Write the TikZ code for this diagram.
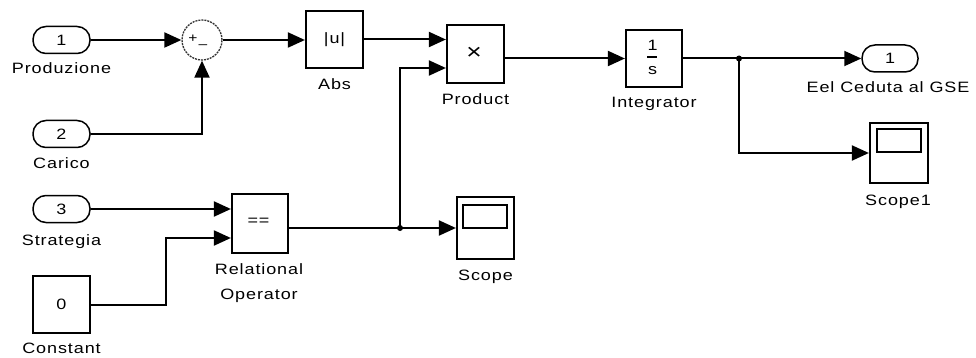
\documentclass[tikz,border=0pt]{standalone}
\usepackage{fontspec}
\setmainfont{Liberation Sans}
\newfontfamily\lab[FakeStretch=1.2,LetterSpace=6]{Liberation Sans}
\usetikzlibrary{arrows.meta,calc}
\begin{document}
\begin{tikzpicture}[x=1pt,y=-1pt,
  sig/.style={line width=2pt,-{Triangle[length=17pt,width=15pt]}},
  wire/.style={line width=2pt},
  blk/.style={draw,line width=2.2pt,minimum width=57pt,minimum height=57pt,inner sep=0pt,font=\lab\fontsize{15}{17}\selectfont},
  port/.style={draw,line width=1.5pt,rounded corners=13pt,minimum width=57pt,minimum height=27pt,inner sep=0pt,font=\lab\fontsize{15}{17}\selectfont},
  lbl/.style={anchor=base,inner sep=0pt,font=\lab\fontsize{15}{17}\selectfont},
  txt/.style={inner sep=0pt,font=\lab\fontsize{15}{17}\selectfont},
  dot/.style={circle,fill=black,inner sep=0pt,minimum size=6pt},
  screen/.style={line width=2pt}
]
\useasboundingbox[fill=white] (0,0) rectangle (976,358);

% inports and constant
\node[port] (in1) at (61.5,40) {1};
\node[lbl] (lin1) at (61.5,74) {Produzione};
\node[port] (in2) at (61.5,134) {2};
\node[lbl] (lin2) at (61.5,168) {Carico};
\node[port] (in3) at (61.5,209) {3};
\node[lbl] (lin3) at (61.5,245) {Strategia};
\node[blk] (const) at (61.5,304.5) {0};
\node[lbl] (lconst) at (61.5,353) {Constant};

% sum
\node[circle,draw=black!80,line width=1.3pt,dash pattern=on 2pt off 1pt,minimum size=40pt,inner sep=0pt] (sum) at (202,40) {};
\node[txt,font=\lab\fontsize{13}{14}\selectfont] (plus) at (193,38.5) {+};
\node[txt,font=\lab\fontsize{13}{14}\selectfont] (minus) at (203,47) {–};

% abs
\node[blk] (abs) at (334.5,39.5) {|u|};
\node[lbl] (labs) at (334.5,90) {Abs};

% product
\node[blk,minimum height=58pt] (prod) at (475.5,54) {};
\node[txt,font=\lab\fontsize{22}{22}\selectfont] (times) at (474,53) {×};
\node[lbl] (lprod) at (475.5,105) {Product};

% integrator
\node[blk,minimum width=56pt] (integ) at (654,58.5) {};
\node[txt] (num) at (652.5,45) {1};
\node[txt] (den) at (652.5,71) {s};
\draw[line width=1.5pt] (647,57) -- (657,57);
\node[lbl] (linteg) at (654,108) {Integrator};

% outport
\node[port,minimum width=56pt] (out1) at (890,58.5) {1};
\node[lbl] (lout1) at (888,93) {Eel Ceduta al GSE};

% relational operator
\node[blk,minimum width=56pt,minimum height=59pt] (rel) at (260,223.5) {};
\node[txt] (eq) at (258.5,222) {==};
\node[lbl] (lrel1) at (259,274) {Relational};
\node[lbl] (lrel2) at (259,299) {Operator};

% scopes
\node[blk,minimum height=62pt] (scope) at (485.5,228) {};
\draw[screen] ($(scope.north west)+(7.5,9)$) rectangle ($(scope.north east)+(-8,32)$);
\node[lbl] (lscope) at (485.5,280) {Scope};
\node[blk,minimum width=58pt,minimum height=60pt] (scope1) at (899,153) {};
\draw[screen] ($(scope1.north west)+(8,7.5)$) rectangle ($(scope1.north east)+(-8,30.5)$);
\node[lbl] (lscope1) at (898,205) {Scope1};

% branch points
\node[dot] (dot1) at (400,228) {};
\node[dot] (dot2) at (739,58.5) {};

% coordinates for second inputs
\coordinate (pin2) at ($(prod.west)+(0,14)$);
\coordinate (rin2) at ($(rel.west)+(0,14.5)$);

% connections
\draw[sig] (in1.east) -- (sum.west);
\draw[sig] (in2.east) -| (sum.south);
\draw[sig] (sum.east) -- (sum.east -| abs.west);
\draw[sig] (abs.east) -- (abs.east -| prod.west);
\draw[sig] (dot1.center) |- (pin2);
\draw[sig] (prod.east |- integ.west) -- (integ.west);
\draw[wire] (integ.east) -- (dot2.center);
\draw[sig] (dot2.center) -- (out1.west);
\draw[sig] (dot2.center) |- (scope1.west);
\draw[sig] (in3.east) -- (in3.east -| rel.west);
\draw[sig] (const.east) -- ++(75,0) |- (rin2);
\draw[wire] (rel.east |- dot1) -- (dot1.center);
\draw[sig] (dot1.center) -- (scope.west);
\end{tikzpicture}
\end{document}
